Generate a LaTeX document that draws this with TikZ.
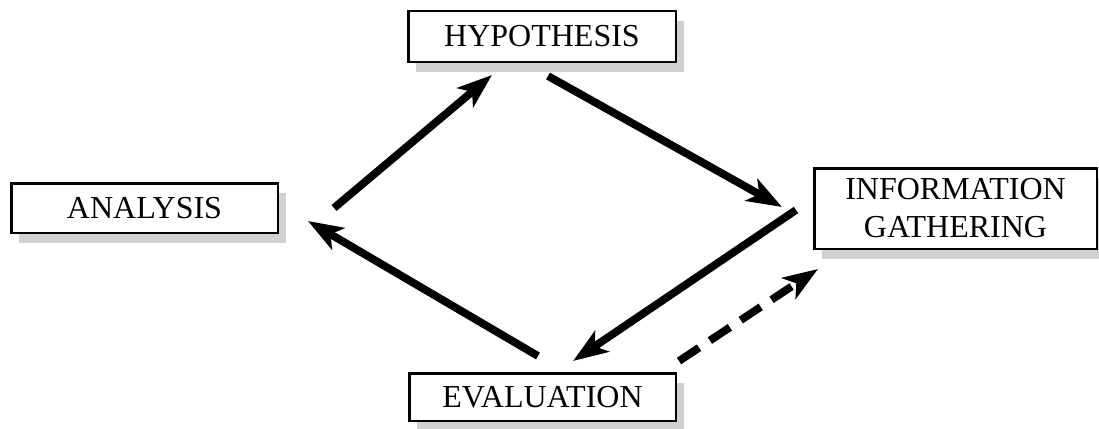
\documentclass[tikz,border=0pt]{standalone}
\usepackage{fontspec}
\setmainfont{Liberation Serif}
\usetikzlibrary{arrows.meta, shadows}

\begin{document}
\begin{tikzpicture}[x = 1pt, y = -1pt,
		stage/.style = {draw, line width = 2.5pt, fill = white, inner sep = 0pt, align = center,
			font = \fontsize{32}{38}\selectfont,
			drop shadow = {shadow xshift = 8pt, shadow yshift = -10pt, fill = black!18, opacity = 1}},
		flow/.style = {line width = 7.8pt, -{Stealth[length = 35pt, width = 25pt, inset = 9pt]}},
		maybe/.style = {flow, dash pattern = on 24pt off 13pt}]
			\useasboundingbox (0,0) rectangle (1099,428);

			\begin{scope}
				\node [stage, minimum width = 267.5pt, minimum height = 50.5pt] (hyp) at (542,36.5) {HYPOTHESIS};
				\node [stage, minimum width = 266.5pt, minimum height = 49.5pt] (ana) at (144.5,208) {ANALYSIS};
				\node [stage, minimum width = 282.5pt, minimum height = 80.5pt] (info) at (955.5,208.5) {INFORMATION\\GATHERING};
				\node [stage, minimum width = 266.5pt, minimum height = 47.5pt] (eval) at (542.5,397) {EVALUATION};
			\end{scope}

			\begin{scope}
				\draw [flow] ([xshift = 55pt]ana.east) -- ([xshift = -50pt, yshift = -12pt]hyp.south);
				\draw [flow] ([xshift = 6pt, yshift = -13pt]hyp.south) -- ([xshift = -31pt, yshift = 1.5pt]info.west);
				\draw [flow] ([xshift = -17pt, yshift = -1.5pt]info.west) -- ([xshift = 30.5pt, yshift = 11pt]eval.north);
				\draw [flow] ([xshift = -4.5pt, yshift = 16pt]eval.north) -- ([xshift = 29pt, yshift = -13pt]ana.east);
				\draw [maybe] ([xshift = 2pt, yshift = 11pt]eval.north east) -- ([xshift = 5pt, yshift = -19pt]info.south west);
			\end{scope}
		\end{tikzpicture}
\end{document}
